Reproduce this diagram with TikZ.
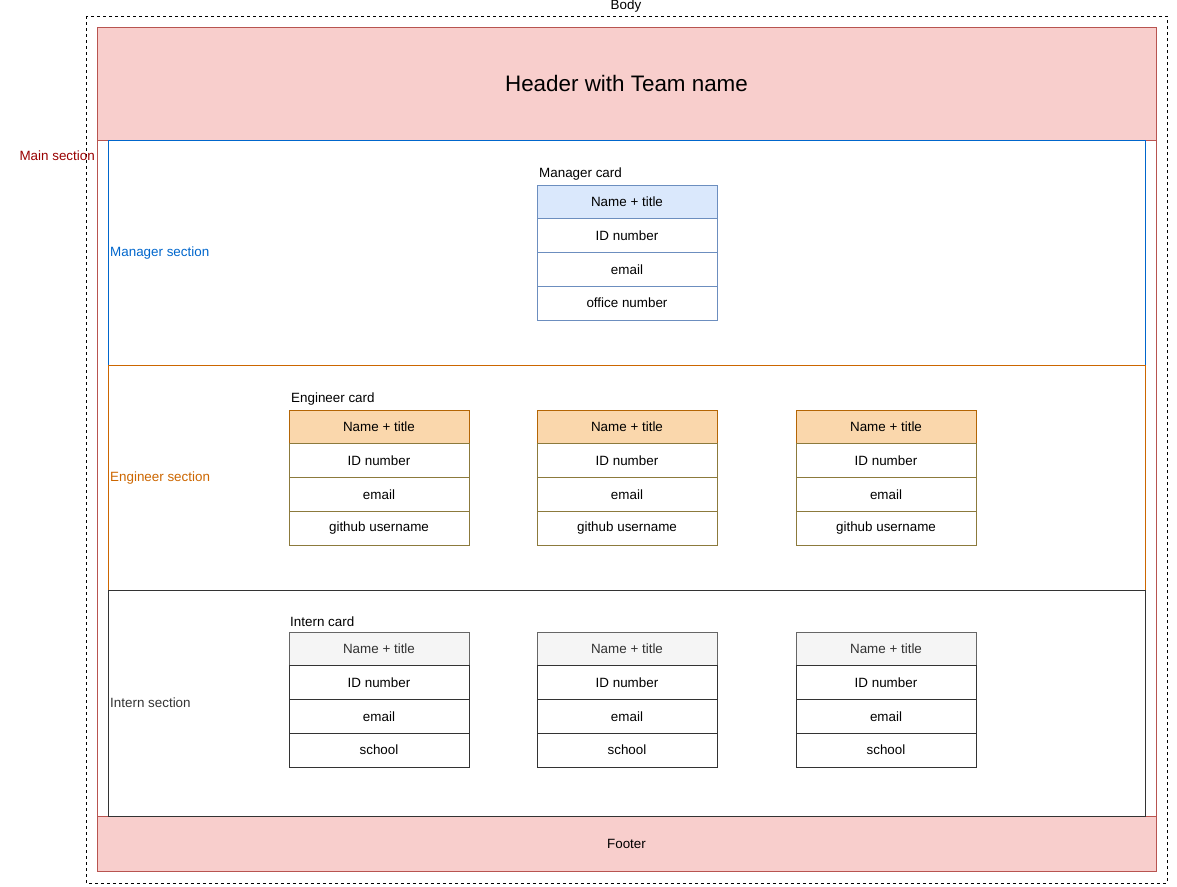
\documentclass[tikz,border=0pt]{standalone}
\usepackage{fontspec}
\setmainfont{Liberation Sans}
\definecolor{hdrfill}{HTML}{F8CECC}
\definecolor{hdrdraw}{HTML}{B85450}
\definecolor{mainred}{HTML}{990000}
\definecolor{mgrblue}{HTML}{0066CC}
\definecolor{mgrfill}{HTML}{DAE8FC}
\definecolor{mgrdraw}{HTML}{6C8EBF}
\definecolor{engor}{HTML}{CC6600}
\definecolor{engfill}{HTML}{FAD7AC}
\definecolor{engdraw}{HTML}{B46504}
\definecolor{engrow}{HTML}{8C7A3C}
\definecolor{intfill}{HTML}{F5F5F5}
\definecolor{intdraw}{HTML}{666666}
\definecolor{inttext}{HTML}{333333}
\newcommand\drawcard[6]{% prefix, left x, top y, header style, row style, last text
  \pgfmathsetmacro\cx{#2+90}
  \node[cellbox,#4] (#1-h) at (\cx,#3+16.875) {Name + title};
  \node[cellbox,#5] (#1-id) at (\cx,#3+50.625) {ID number};
  \node[cellbox,#5] (#1-em) at (\cx,#3+84.375) {email};
  \node[cellbox,#5] (#1-x) at (\cx,#3+118.125) {#6};
}
\begin{document}
\begin{tikzpicture}[x=1pt,y=-1pt,
  every node/.style={font=\fontsize{13.4}{15}\selectfont, inner sep=0pt},
  cellbox/.style={draw, rectangle, minimum width=180pt, minimum height=33.75pt, line width=1pt, fill=white},
  mhead/.style={fill=mgrfill, draw=mgrdraw},
  mrow/.style={draw=mgrdraw},
  ehead/.style={fill=engfill, draw=engdraw},
  erow/.style={draw=engrow},
  ihead/.style={fill=intfill, draw=intdraw, text=inttext},
  irow/.style={draw=inttext},
  seclabel/.style={anchor=west},
  cardlabel/.style={anchor=south west}]
\useasboundingbox (0,0) rectangle (1177,886);
% body
\draw[dash pattern=on 3pt off 3pt, line width=1pt] (86,16) rectangle (1167,883);
\node (body) at (626,6.5) {Body};
% main section
\draw[hdrdraw, line width=1pt] (97,140) rectangle (1156,816);
\node[anchor=east, text=mainred] (mainlbl) at (95,155.5) {Main section};
% header and footer
\node[draw=hdrdraw, fill=hdrfill, line width=1pt, minimum width=1059pt, minimum height=113pt, font=\fontsize{22.4}{26}\selectfont] (header) at (626.5,83.5) {Header with Team name};
\node[draw=hdrdraw, fill=hdrfill, line width=1pt, minimum width=1059pt, minimum height=55pt] (footer) at (626.5,843.5) {Footer};
% sections
\draw[mgrblue, line width=1pt] (108,140) rectangle (1145,365);
\node[seclabel, text=mgrblue] (mgrlbl) at (110,253) {Manager section};
\draw[engor, line width=1pt] (108,365) rectangle (1145,590);
\node[seclabel, text=engor] (englbl) at (110,478) {Engineer section};
\draw[inttext, line width=1pt] (108,590) rectangle (1145,816);
\node[seclabel, text=inttext] (intlbl) at (110,703) {Intern section};
% manager card
\node[cardlabel] (mcardlbl) at (539,180) {Manager card};
\drawcard{m1}{537}{185}{mhead}{mrow}{office number}
% engineer cards
\node[cardlabel] (ecardlbl) at (291,405) {Engineer card};
\drawcard{e1}{289}{410}{ehead}{erow}{github username}
\drawcard{e2}{537}{410}{ehead}{erow}{github username}
\drawcard{e3}{796}{410}{ehead}{erow}{github username}
% intern cards
\node[cardlabel] (icardlbl) at (290,627) {Intern card};
\drawcard{i1}{289}{632}{ihead}{irow}{school}
\drawcard{i2}{537}{632}{ihead}{irow}{school}
\drawcard{i3}{796}{632}{ihead}{irow}{school}
\end{tikzpicture}
\end{document}
